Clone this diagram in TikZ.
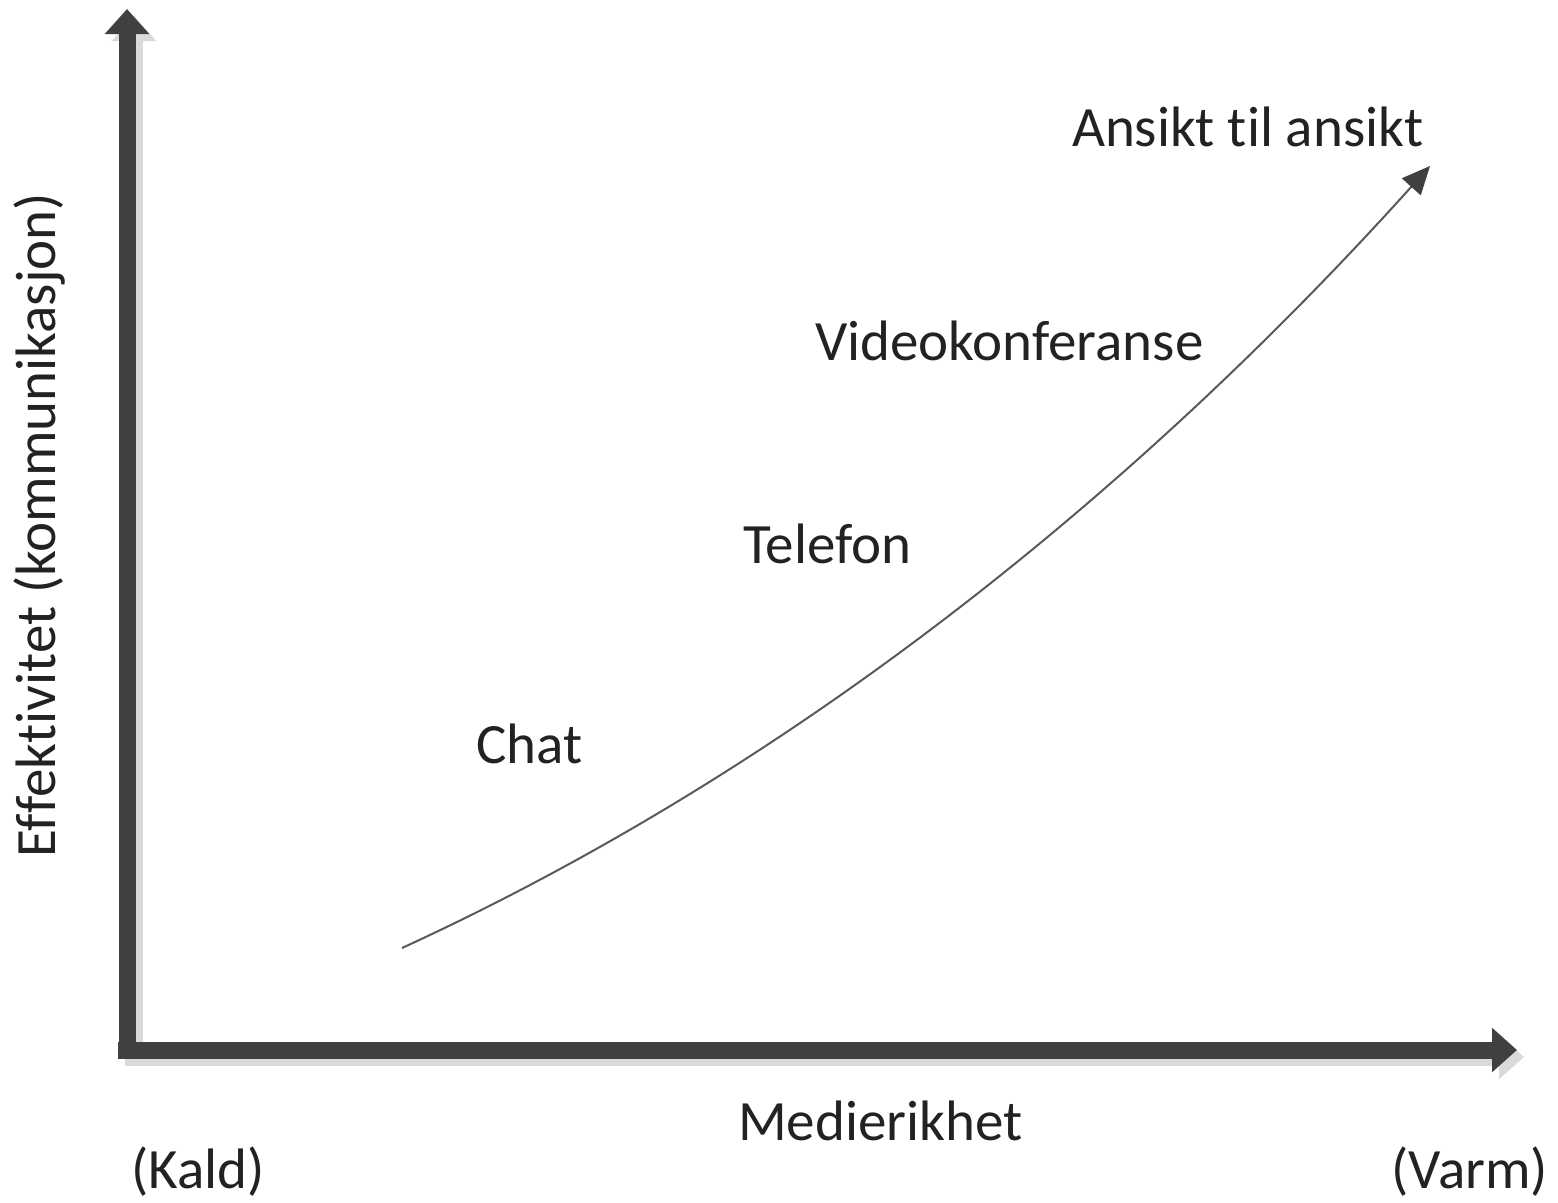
\documentclass[tikz,border=0pt]{standalone}
\usepackage{fontspec}
\setmainfont{Carlito}[Ligatures=NoCommon]
\usetikzlibrary{arrows.meta}
\definecolor{axisdark}{HTML}{404040}
\definecolor{axisshadow}{HTML}{DADADA}
\definecolor{curvegray}{HTML}{595959}
\definecolor{txt}{HTML}{222222}
\tikzset{
  lbl/.style={inner sep=0pt, outer sep=0pt, text=txt, font=\fontsize{57}{68}\selectfont},
  axisline/.style={line width=17pt, -{Triangle[length=25pt,width=43pt]}},
}
\begin{document}
\begin{tikzpicture}[x=1pt,y=-1pt]
\useasboundingbox (0,0) rectangle (1558,1202);
% named coordinates
\coordinate (ytop) at (127,9);
\coordinate (ybot) at (127,1059);
\coordinate (xleft) at (118,1050);
\coordinate (xright) at (1517,1050);
% shadows
\draw[axisline, axisshadow] ([shift={(7,7)}]ybot) -- ([shift={(7,7)}]ytop);
\draw[axisline, axisshadow] ([shift={(7,7)}]xleft) -- ([shift={(7,7)}]xright);
% axes
\draw[axisline, axisdark] (ybot) -- (ytop);
\draw[axisline, axisdark] (xleft) -- (xright);
% curve
\coordinate (cs) at (402,948);
\coordinate (ce) at (1430,166);
\draw[curvegray, line width=2pt, -{Triangle[length=28pt,width=25pt,color=axisdark]}]
  (cs) .. controls (855,740) and (1196,426) .. (ce);
% labels
\node[lbl, anchor=base west] (ansikt) at (1072,146) {Ansikt t\kern0pt il ansikt};
\node[lbl, anchor=base west] (video) at (815,360) {Videokonferanse};
\node[lbl, anchor=base west] (tel) at (743,563) {Telefon};
\node[lbl, anchor=base west] (chat) at (476,763) {Chat};
\node[lbl, anchor=base west] (medie) at (738,1140) {Medierikhet};
\node[lbl, anchor=base west] (kald) at (131,1188) {(Kald)};
\node[lbl, anchor=base east] (varm) at (1548,1188) {(Varm)};
\node[lbl, anchor=base, rotate=90] (eff) at (55,525) {Ef\kern0pt fektivit\kern0pt et (kommunikasjon)};
\end{tikzpicture}
\end{document}
